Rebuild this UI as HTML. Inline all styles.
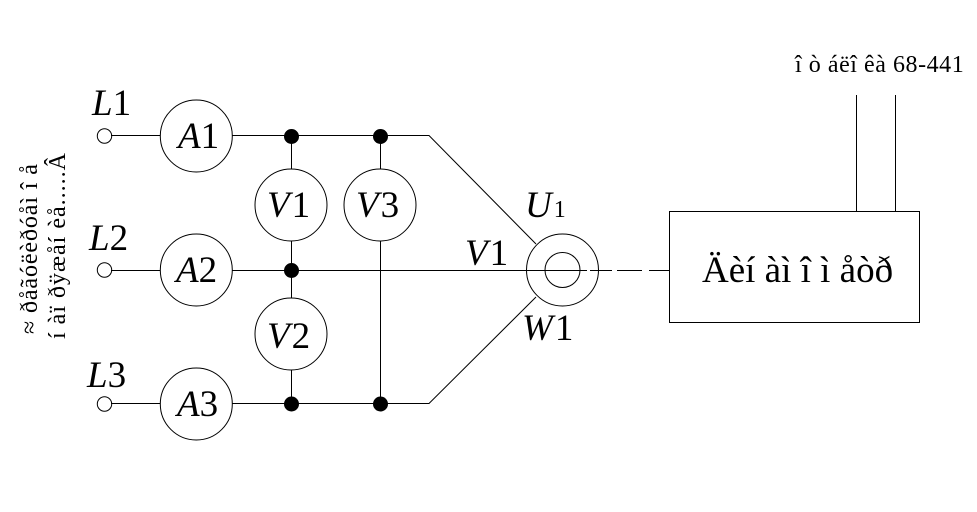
<!DOCTYPE html>
<html>
<head>
<meta charset="utf-8">
<style>
html,body{margin:0;padding:0;background:#fff}
svg{display:block}
text{font-family:"Liberation Serif",serif;fill:#000}
.i{font-style:italic}
.m{font-size:37px}
</style>
</head>
<body>
<svg width="977" height="512" viewBox="0 0 977 512" xmlns="http://www.w3.org/2000/svg">
<rect width="977" height="512" fill="#fff"/>
<g stroke="#000" stroke-width="1" fill="none">
<path d="M111 135.500H160M232 135.500H429L536 244"/>
<path d="M111 270.500H160M232 270.500H527"/>
<path d="M111 403.500H160M232 403.500H429L536 297"/>
<path d="M291.500 136V169M291.500 241V298M291.500 370V404"/>
<path d="M380.500 136V169M380.500 241V404"/>
<path d="M527 270.500H587M590 270.500H612M617 270.500H642M649 270.500H669"/>
<path d="M856.500 95V211M895.500 95V211"/>
<rect x="669.500" y="211.500" width="250" height="111"/>
<circle cx="104.500" cy="136" r="7.200"/>
<circle cx="104.500" cy="270" r="7.200"/>
<circle cx="104.500" cy="404" r="7.200"/>
<circle cx="196.300" cy="136" r="36"/>
<circle cx="196.300" cy="270" r="36"/>
<circle cx="196.300" cy="404" r="36"/>
<circle cx="291" cy="205" r="36"/>
<circle cx="291" cy="334" r="36"/>
<circle cx="380" cy="205" r="36"/>
<circle cx="562.500" cy="270" r="36"/>
<circle cx="562.500" cy="270" r="17.500"/>
</g>
<g fill="#000">
<circle cx="291.500" cy="136.500" r="7.500"/>
<circle cx="380.500" cy="136.500" r="7.500"/>
<circle cx="291.500" cy="270.500" r="7.500"/>
<circle cx="291.500" cy="404" r="7.500"/>
<circle cx="380.500" cy="404" r="7.500"/>
</g>
<text x="92" y="115" class="m"><tspan class="i">L</tspan>1</text>
<text x="89" y="250" class="m"><tspan class="i">L</tspan>2</text>
<text x="87" y="387" class="m"><tspan class="i">L</tspan>3</text>
<text x="178" y="148" class="m"><tspan class="i">A</tspan>1</text>
<text x="176" y="282" class="m"><tspan class="i">A</tspan>2</text>
<text x="177" y="416" class="m"><tspan class="i">A</tspan>3</text>
<text x="267" y="217" class="m"><tspan class="i">V</tspan><tspan dx="2">1</tspan></text>
<text x="267" y="348" class="m"><tspan class="i">V</tspan><tspan dx="2">2</tspan></text>
<text x="356" y="217" class="m"><tspan class="i">V</tspan><tspan dx="2">3</tspan></text>
<text x="525" y="217" class="m"><tspan class="i">U</tspan><tspan dx="2" font-size="24">1</tspan></text>
<text x="465" y="265" class="m"><tspan class="i">V</tspan><tspan dx="2">1</tspan></text>
<text x="522" y="340" class="m"><tspan class="i">W</tspan><tspan dx="2">1</tspan></text>
<text x="702" y="282" font-size="37">Äèí àì î ì åòð</text>
<text x="795" y="72" font-size="24" letter-spacing="0.550">î ò áëî êà 68-441</text>
<text transform="translate(37,334) rotate(-90)" font-size="24" letter-spacing="0.900">≈ ðåãóëèðóåì î å</text>
<text transform="translate(65,339) rotate(-90)" font-size="24" letter-spacing="1">í àï ðÿæåí èå.....Â</text>
</svg>
</body>
</html>
